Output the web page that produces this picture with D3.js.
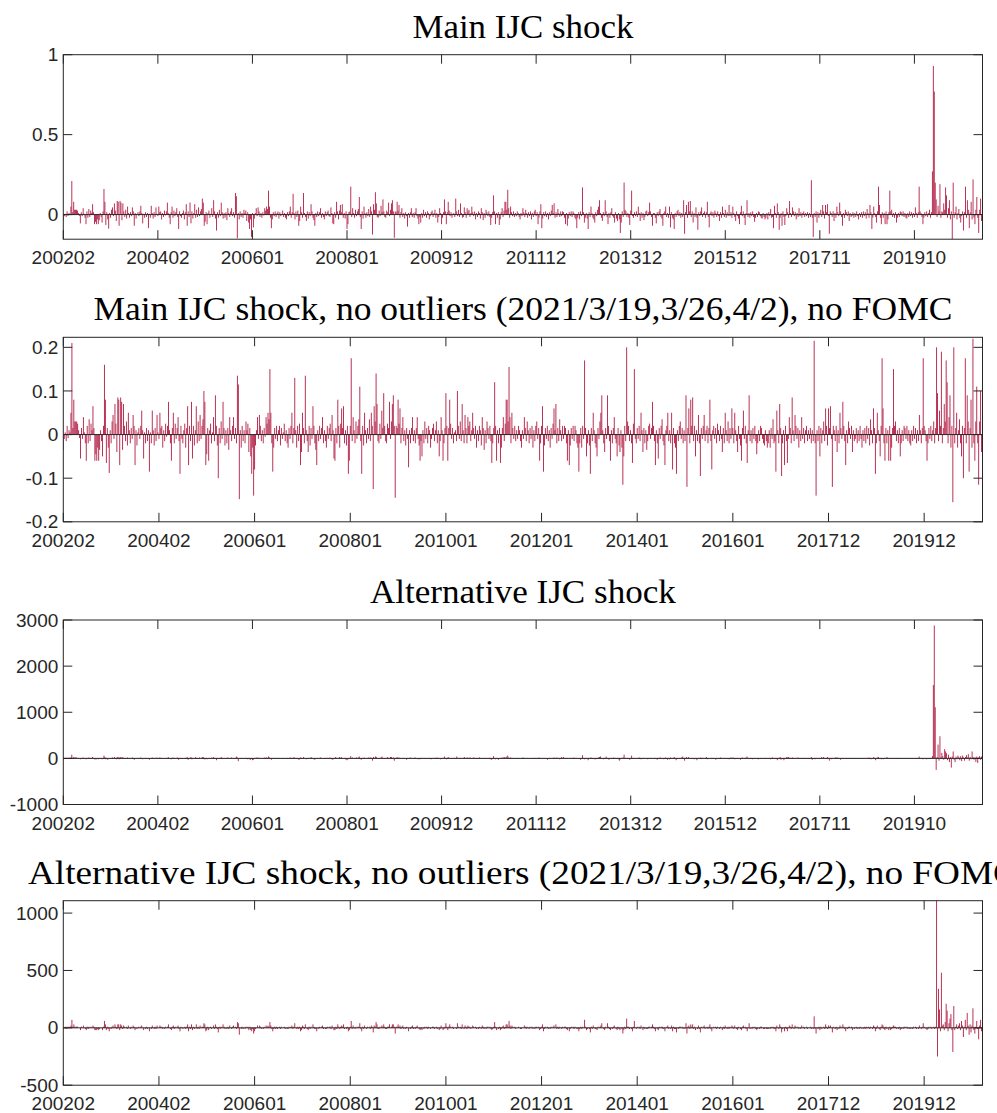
<!DOCTYPE html>
<html>
<head>
<meta charset="utf-8">
<script src="https://d3js.org/d3.v7.min.js"></script>
<style>
  body { margin: 0; background: #fff; }
</style>
</head>
<body>
<div id="chart"></div>
<script>
// x tick labels, one every 100 observations
var ticksAll = ["200202","200402","200601","200801","200912","201112","201312","201512","201711","201910"];
var ticksClean = ["200202","200402","200601","200801","201001","201201","201401","201601","201712","201912"];

// Main IJC shock, all weeks (in thousandths)
var mainAll = [
-35,-10,5,-15,20,-8,10,5,50,210,15,80,30,30,30,25,10,-8,-55,15,
-10,40,5,-20,-60,20,-20,35,-15,25,10,65,15,-60,-45,-60,-30,-60,-35,10,
-15,-50,20,160,80,-65,15,-30,-88,10,-20,30,45,-10,70,25,-40,85,80,-70,
85,75,-35,70,20,-15,30,-25,50,10,-20,15,-10,45,20,-70,10,-25,5,15,
-10,20,55,10,-55,5,-20,15,-15,10,-85,5,-20,55,10,-25,15,-15,45,5,
-10,50,15,20,-30,10,-15,25,-5,20,75,10,-20,-60,15,50,-20,25,-10,15,
40,-15,-90,20,-10,-20,10,25,-30,15,65,-70,20,-15,75,-55,20,-25,10,65,
-20,30,-15,45,-10,20,35,100,75,-70,-45,15,-60,10,25,-20,5,40,-15,90,
20,-25,-100,15,-20,30,-10,75,15,-25,10,-20,15,-35,40,10,-15,20,40,-10,
15,-20,135,115,-148,10,-30,20,-15,10,-20,30,10,25,-40,15,-50,-90,-30,-140,
10,-80,-25,10,40,-10,45,20,-15,10,-20,15,-5,40,25,50,35,150,50,-20,-85,
-30,15,-10,20,-15,10,20,-25,15,-10,5,25,-15,10,-20,-30,15,-10,20,50,
-20,15,130,10,-30,20,-15,25,-70,-40,50,15,-20,135,10,-15,-40,20,-25,15,
-10,65,20,-20,-35,-70,10,-15,20,-10,15,40,-20,10,-15,-30,20,-10,15,25,
-10,-15,45,10,-55,-60,15,-20,80,20,-30,25,60,15,65,-20,10,-25,20,-90,-60,
15,20,175,-15,40,10,-20,30,-10,20,35,110,-15,-90,20,-25,50,10,-20,15,-10,
35,-15,50,20,-125,65,30,140,70,-15,-20,25,-10,55,15,95,20,-15,-20,25,
15,75,-10,30,70,90,20,-145,20,15,80,25,60,-20,15,40,-15,10,-25,15,
-10,-75,10,-20,15,40,-15,10,-20,15,40,-10,-25,-60,-15,-50,10,-20,30,-10,
15,-20,20,10,-30,-10,15,25,-15,10,30,-20,10,-50,-15,40,10,-60,-20,15,
95,20,-60,15,80,25,-10,15,-20,5,10,-15,100,20,-10,30,-15,70,10,-20,
-15,45,15,-20,40,20,30,-15,10,50,15,-10,20,-30,10,-15,20,10,-25,40,15,
-35,10,-20,30,15,-10,20,-15,-65,-20,15,120,20,-60,10,-20,15,-65,-30,15,
40,-15,25,80,80,30,155,40,-20,50,15,-10,20,-15,10,-10,20,10,-15,-30,
10,-10,40,15,-15,30,10,-20,15,-10,20,-30,10,-15,20,30,-10,15,-60,-20,
20,65,-85,-25,15,-10,20,-15,10,-30,15,-10,25,60,10,70,-20,15,-15,35,
10,-15,20,-10,20,15,-20,-60,10,-70,-25,15,-10,20,-15,20,10,-20,-30,-85,
-20,15,-30,20,-10,170,15,-50,-20,10,-25,-90,15,-15,50,10,-20,-30,-50,15,
-10,30,50,90,10,-20,-40,15,-10,90,20,-15,-60,10,-20,15,40,-10,-20,-50,
15,-25,-40,10,-30,-115,-50,20,-15,200,30,20,-15,10,-20,-65,25,150,-10,-20,
15,-10,20,-15,50,10,-40,15,-20,10,-35,-15,20,25,-10,15,75,20,-15,-70,
10,10,-20,-55,15,-10,20,35,-15,-25,-70,10,20,50,-15,10,-20,50,-80,15,-20,
-30,-90,10,-15,20,30,-10,15,-20,10,-15,90,-120,15,60,-20,80,20,85,-15,
20,-50,10,-15,45,-20,-95,15,-10,20,45,-15,10,20,-20,15,80,-15,-80,10,
20,-10,15,-20,25,10,-15,20,-10,-40,15,-20,50,10,-15,30,-20,15,-10,60,
-10,15,-20,50,10,-15,-40,20,-10,-25,-60,15,55,-10,20,-20,-65,10,90,-15,10,
-20,15,-10,20,-15,-45,-20,10,-15,20,15,-10,-20,-25,10,-15,-30,-20,10,-30,
15,-10,35,-20,-15,-85,55,10,-20,70,15,-95,-20,10,-70,20,-15,-65,-10,40,
15,-20,85,10,-15,45,20,-10,15,-30,10,-15,40,-10,15,-20,10,20,-15,10,
-10,15,-20,10,-15,215,-20,-140,10,-15,20,-50,15,-20,10,30,-15,60,20,-25,
60,15,65,-10,-120,20,10,-15,20,-40,10,-20,50,15,-10,75,20,-15,-70,10,
-20,30,15,-10,20,-40,10,-15,-10,15,-20,10,-15,20,-10,-30,10,-15,15,-20,
20,-10,15,-25,35,10,-20,60,15,-90,-20,50,10,-15,-50,20,175,60,-20,-60,
15,-20,10,-60,20,-60,-30,15,150,20,30,-15,10,-20,15,-50,-20,10,-15,20,
15,-10,20,-15,10,-20,-25,10,-15,20,-10,15,-20,10,-15,45,10,-20,15,175,
20,10,-15,-60,-20,15,-10,20,-15,10,30,-20,15,270,930,770,200,95,-15,55,20,190,-20,
20,15,70,30,170,120,-20,40,90,-30,20,-155,200,-20,15,50,-30,10,35,-20,-50,
-10,20,-100,15,175,-20,90,30,-85,15,80,-30,220,-20,-60,30,110,-20,-115,30,100,-40,-20
];

// Main IJC shock, no outliers, no FOMC (in thousandths)
var mainClean = [
-35,-10,5,-15,20,-8,10,5,50,210,15,80,30,30,30,25,10,-8,-55,15,
-10,40,5,-20,-60,20,-20,35,-15,25,10,65,15,-60,-45,-60,-30,-60,-35,10,
-15,-50,20,160,80,-65,15,-30,-88,10,-20,30,45,-10,70,25,-40,85,80,-70,
85,75,-35,70,20,-15,30,-25,50,10,-20,15,-10,45,20,-70,10,-25,5,15,
-10,20,55,10,-55,5,-20,15,-15,10,-85,5,-20,55,10,-25,15,-15,45,5,
-10,50,15,20,-30,10,-15,25,-5,20,75,10,-20,-60,15,50,-20,25,-10,15,
40,-15,-90,20,-10,-20,10,25,-30,15,65,-70,20,-15,75,-55,20,-25,10,65,
-20,30,-15,45,-10,20,35,100,75,-70,-45,15,-60,10,25,-20,5,40,-15,90,
20,-25,-100,15,-20,30,-10,75,15,-25,10,-20,15,-35,40,10,-15,20,40,-10,
15,-20,135,115,-148,10,-30,20,-15,10,-20,30,10,25,-40,15,-50,-90,-30,-140,
-80,-25,10,40,-10,45,20,-15,10,-20,15,-5,40,25,50,35,150,50,-20,-85,
-30,15,-10,20,-15,10,20,-25,15,-10,5,25,-15,10,-20,-30,15,-10,20,50,
-20,15,130,10,-30,20,-15,25,-70,-40,50,15,-20,135,10,-15,-40,20,-25,15,
-10,65,20,-20,-35,-70,10,-15,20,-10,15,40,-20,10,-15,-30,20,-10,15,25,
-15,45,10,-55,-60,15,-20,80,20,-30,25,60,15,65,-20,10,-25,20,-90,-60,
20,175,-15,40,10,-20,30,-10,20,35,110,-15,-90,20,-25,50,10,-20,15,-10,
35,-15,50,20,-125,65,30,140,70,-15,-20,25,-10,55,15,95,20,-15,-20,25,
15,75,-10,30,70,90,20,-145,20,15,80,25,60,-20,15,40,-15,10,-25,15,
-10,-75,10,-20,15,40,-15,10,-20,15,40,-10,-25,-60,-15,-50,10,-20,30,-10,
15,-20,20,10,-30,-10,15,25,-15,10,30,-20,10,-50,-15,40,10,-60,-20,15,
95,20,-60,15,80,25,-10,15,-20,5,10,-15,100,20,-10,30,-15,70,10,-20,
45,15,-20,40,20,30,-15,10,50,15,-10,20,-30,10,-15,20,10,-25,40,15,
-35,10,-20,30,15,-10,20,-15,-65,-20,15,120,20,-60,10,-20,15,-65,-30,15,
40,-15,25,80,80,30,155,40,-20,50,15,-10,20,-15,10,-10,20,10,-15,-30,
10,-10,40,15,-15,30,10,-20,15,-10,20,-30,10,-15,20,30,-10,15,-60,-20,
20,65,-85,-25,15,-10,20,-15,10,-30,15,-10,25,60,10,70,-20,15,-15,35,
10,-15,20,-10,20,15,-20,-60,10,-70,-25,15,-10,20,-15,20,10,-20,-30,-85,
-20,15,-30,20,-10,170,15,-50,-20,10,-25,-90,15,-15,50,10,-20,-30,-50,15,
-10,30,50,90,10,-20,-40,15,-10,90,20,-15,-60,10,-20,15,40,-10,-20,-50,
15,-25,-40,10,-30,-115,-50,20,-15,200,30,20,-15,10,-20,-65,25,150,-10,-20,
15,-10,20,-15,50,10,-40,15,-20,10,-35,-15,20,25,-10,15,75,20,-15,-70,
10,-20,-55,15,-10,20,35,-15,-25,-70,10,20,50,-15,10,-20,50,-80,15,-20,
-30,-90,10,-15,20,30,-10,15,-20,10,-15,90,-120,15,60,-20,80,20,85,-15,
20,-50,10,-15,45,-20,-95,15,-10,20,45,-15,10,20,-20,15,80,-15,-80,10,
20,-10,15,-20,25,10,-15,20,-10,-40,15,-20,50,10,-15,30,-20,15,-10,60,
15,-20,50,10,-15,-40,20,-10,-25,-60,15,55,-10,20,-20,-65,10,90,-15,10,
-20,15,-10,20,-15,-45,-20,10,-15,20,15,-10,-20,-25,10,-15,-30,-20,10,-30,
15,-10,35,-20,-15,-85,55,10,-20,70,15,-95,-20,10,-70,20,-15,-65,-10,40,
15,-20,85,10,-15,45,20,-10,15,-30,10,-15,40,-10,15,-20,10,20,-15,10,
-10,15,-20,10,-15,215,-20,-140,10,-15,20,-50,15,-20,10,30,-15,60,20,-25,
60,15,65,-10,-120,20,10,-15,20,-40,10,-20,50,15,-10,75,20,-15,-70,10,
-20,30,15,-10,20,-40,10,-15,-10,15,-20,10,-15,20,-10,-30,10,-15,15,-20,
20,-10,15,-25,35,10,-20,60,15,-90,-20,50,10,-15,-50,20,175,60,-20,-60,
15,-20,10,-60,20,-60,-30,15,150,20,30,-15,10,-20,15,-50,-20,10,-15,20,
15,-10,20,-15,10,-20,-25,10,-15,20,-10,15,-20,10,-15,45,10,-20,15,175,
20,10,-15,-60,-20,15,-10,20,-15,10,30,-20,15,200,95,-15,55,20,190,-20,
15,70,30,170,120,-20,40,90,-30,20,-155,200,-20,15,50,-30,10,35,-20,-50,
20,-100,15,175,-20,90,30,-85,15,80,-30,220,-20,-60,30,110,-20,-115,30,100,-40,-20
];

// Alternative IJC shock, all weeks (in tens)
var altAll = [
-2,0,1,-1,1,0,1,0,2,8,1,3,2,2,2,1,1,0,-2,1,
0,2,0,-1,-2,1,-1,2,0,1,1,3,1,-2,-2,-2,-1,-2,-1,1,
0,-2,1,6,3,-2,1,-3,-1,0,-1,1,2,0,3,1,-2,3,3,-2,
3,3,-1,3,1,0,1,-1,2,0,-1,1,0,2,1,-3,0,-1,0,1,
0,1,2,0,-2,0,-1,1,-1,0,1,-3,0,-1,2,1,-1,1,-1,2,
0,-1,2,1,1,-1,0,-1,1,0,1,3,0,-1,-2,1,2,-1,1,0,
1,2,-3,-1,1,-1,-1,0,1,-1,1,3,-3,1,-1,3,-2,1,-1,0,
3,-1,1,-1,2,0,1,3,3,-2,-2,1,-2,0,1,-1,0,2,-1,3,
1,-1,-4,1,-1,1,0,3,1,-1,0,-1,1,-1,2,0,-1,1,2,0,
1,-1,1,4,2,-6,0,-1,1,-1,0,-1,1,1,1,-2,1,-2,-3,-1,
-4,-3,-1,0,2,0,2,1,-1,0,-1,1,0,2,1,2,1,4,2,-1,
-3,-1,1,-1,1,0,1,1,-1,1,0,0,1,-1,0,-1,-1,1,0,1,
2,-1,1,1,3,0,-1,1,-1,-3,-2,2,1,-1,3,1,0,-2,1,-1,
1,0,3,1,-1,-2,-3,0,-1,1,0,1,2,-1,0,-1,-1,1,0,1,
1,-1,2,0,-2,-3,1,-1,3,1,-1,1,3,1,3,-1,0,-1,1,-3,
-4,-2,1,1,5,-1,2,0,-1,1,2,1,2,4,-1,-3,1,-1,2,0,
-1,1,-1,2,1,2,1,-5,3,1,4,3,-1,-1,1,0,2,4,1,-1,
-1,1,1,3,-1,1,3,3,1,2,-5,1,1,3,1,2,-1,1,0,-1,
1,-1,0,-3,1,-1,1,2,-1,0,-1,1,2,0,-1,-2,-1,-2,1,-1,
1,0,-1,1,0,-1,1,1,-1,-2,1,0,1,-1,1,2,-1,1,0,-2,
-1,1,1,4,1,-2,1,3,1,0,1,-1,0,1,1,-1,4,1,0,1,
-1,1,0,-1,3,1,-1,2,1,1,2,-1,0,1,2,1,-1,1,-1,1,
2,1,0,-1,-1,1,-1,1,0,-1,1,1,-2,-3,-1,5,1,-2,1,-1,
-3,-1,1,-1,2,1,3,3,1,4,6,2,-1,2,1,-1,1,-1,0,1,
-1,1,0,-1,0,-1,2,1,-1,1,0,1,-1,0,-1,1,0,1,-1,1,
1,0,1,2,-1,0,-1,1,0,1,0,-1,-3,-1,1,-1,0,1,-1,2,
1,-1,2,0,1,-2,1,3,1,3,0,1,-1,1,0,-1,1,0,1,-1,
2,0,-1,1,0,-1,-1,-3,1,7,1,-2,-1,1,-1,-4,1,-1,2,1,
-1,-1,-2,-2,1,-1,2,3,4,1,-1,-2,1,-1,4,1,-1,-3,1,-1,
1,-1,2,-1,1,-1,1,-2,-5,-2,1,-1,2,8,1,1,-1,1,-1,-3,
1,6,-1,-1,1,0,-1,1,-1,2,1,-2,1,-1,1,-1,0,1,-2,1,
0,1,1,0,-1,1,1,-1,-3,1,-1,2,1,-1,-1,-2,1,2,-1,-3,
1,-2,2,1,-1,1,3,-1,-4,1,0,1,-1,1,2,4,1,-5,1,3,
-1,3,-1,1,-1,1,-1,-2,-1,1,-4,-1,1,-1,2,-1,1,1,-1,1,
3,-2,1,0,-1,1,1,-1,1,-1,-3,1,-1,-1,1,2,-1,1,0,1,
0,1,-1,1,-2,1,2,-1,2,1,-2,1,-1,1,-1,-1,-3,1,2,0,
1,-1,2,4,-1,1,-1,1,-1,-2,-1,1,0,-1,1,-2,-1,1,-1,0,
-1,1,-1,1,-1,-1,-1,1,-2,1,2,-1,-1,1,1,-4,1,-1,3,-3,
1,-1,-4,1,-1,3,2,3,1,-1,1,2,-1,1,0,1,-1,2,-1,1,
0,1,-1,1,1,-1,1,-1,1,-1,1,3,-3,-1,1,-2,1,-1,1,1,
-1,1,3,-1,3,1,-1,1,3,1,-5,1,-2,1,1,-1,1,3,-1,2,
1,-1,-3,1,1,-1,1,-1,1,-1,-1,1,-1,1,-1,1,-1,-1,1,-1,
1,-1,1,0,-1,1,-1,0,1,-1,1,-1,2,-1,-2,-1,1,3,-1,-4,
1,2,3,-1,1,-2,-1,-2,1,-1,1,3,1,-1,-1,1,-1,1,-1,1,
-1,1,-1,1,-1,1,-1,1,0,-1,1,0,1,-1,1,0,-1,1,-1,1,
0,1,-1,1,-1,4,1,-1,1,-2,-1,1,-1,-2,1,1,-1,1,-1,5,
159,288,111,-25,3,30,-5,48,2,12,5,-3,20,15,11,-4,8,-8,3,-20,
4,15,-3,-8,4,-2,6,3,-4,5,-6,6,2,-5,3,7,2,9,-5,3,
-2,15,3,-3,2,-8,4,-10,2,5,-3,4,-2
];

// Alternative IJC shock, no outliers, no FOMC (in tens)
var altClean = [
-1,0,1,-1,1,0,1,0,2,7,1,3,1,1,1,1,0,0,-2,1,
0,2,0,-1,-2,1,-1,1,0,1,0,2,1,-2,-2,-2,-1,-2,-1,0,
0,-2,1,6,3,-2,1,-1,-3,0,-1,1,2,0,3,1,-1,3,3,-2,
3,2,-1,2,1,0,1,-1,2,0,-1,1,0,2,1,-2,0,-1,0,1,
0,1,2,0,-2,0,-1,1,-1,0,-3,0,-1,2,0,-1,1,-1,2,0,
0,2,1,1,-1,0,-1,1,0,1,3,0,-1,-2,1,2,-1,1,0,1,
2,-1,-3,1,0,-1,0,1,-1,1,3,-3,1,-1,3,-2,1,-1,0,3,
-1,1,-1,2,0,1,1,4,3,-3,-2,1,-2,0,1,-1,0,2,-1,3,
1,-1,-4,1,-1,1,0,3,1,-1,0,-1,1,-1,2,0,-1,1,2,0,
1,-1,5,4,-6,0,-1,1,-1,0,-1,1,0,1,-2,1,-2,-3,-1,-5,
-3,-1,0,2,0,2,1,-1,0,-1,1,0,2,1,2,1,5,2,-1,-3,
-1,1,-1,1,-1,0,1,-1,1,0,0,1,-1,0,-1,-1,1,0,1,2,
-1,1,4,0,-1,1,-1,1,-3,-2,2,1,-1,3,0,-1,-2,1,-1,1,
0,3,1,-1,-1,-3,0,-1,1,0,1,2,-1,0,-1,-1,1,0,1,1,
-1,2,0,-2,-2,1,-1,3,1,-1,1,2,1,3,-1,0,-1,1,-3,-2,
1,6,-1,2,0,-1,1,0,1,1,4,-1,-3,1,-1,2,0,-1,1,0,
1,-1,2,1,-4,2,1,5,3,-1,-1,1,0,2,1,3,1,-1,-1,1,
1,3,0,1,3,3,1,-5,1,1,3,1,2,-1,1,2,-1,0,-1,1,
0,-3,0,-1,1,2,-1,0,-1,1,2,0,-1,-2,-1,-2,0,-1,1,0,
1,-1,1,0,-1,0,1,1,-1,0,1,-1,0,-2,-1,2,0,-2,-1,1,
4,1,-2,1,3,1,0,1,-1,0,0,-1,4,1,0,1,-1,3,0,-1,
2,1,-1,2,1,1,-1,0,2,1,0,1,-1,0,-1,1,0,-1,2,1,
-1,0,-1,1,1,0,1,-1,-2,-1,1,5,1,-2,0,-1,1,-2,-1,1,
2,-1,1,3,3,1,6,2,-1,2,1,0,1,-1,0,0,1,0,-1,-1,
0,0,2,1,-1,1,0,-1,1,0,1,-1,0,-1,1,1,0,1,-2,-1,
1,3,-3,-1,1,0,1,-1,0,-1,1,0,1,2,0,3,-1,1,-1,1,
0,-1,1,0,1,1,-1,-2,0,-3,-1,1,0,1,-1,1,0,-1,-1,-3,
-1,1,-1,1,0,7,1,-2,-1,0,-1,-4,1,-1,2,0,-1,-1,-2,1,
0,1,2,4,0,-1,-2,1,0,4,1,-1,-2,0,-1,1,2,0,-1,-2,
1,-1,-2,0,-1,-5,-2,1,-1,8,1,1,-1,0,-1,-3,1,6,0,-1,
1,0,1,-1,2,0,-2,1,-1,0,-1,-1,1,1,0,1,3,1,-1,-3,
0,-1,-2,1,0,1,1,-1,-1,-3,0,1,2,-1,0,-1,2,-3,1,-1,
-1,-4,0,-1,1,1,0,1,-1,0,-1,4,-5,1,2,-1,3,1,3,-1,
1,-2,0,-1,2,-1,-4,1,0,1,2,-1,0,1,-1,1,3,-1,-3,0,
1,0,1,-1,1,0,-1,1,0,-2,1,-1,2,0,-1,1,-1,1,0,2,
1,-1,2,0,-1,-2,1,0,-1,-2,1,2,0,1,-1,-3,0,4,-1,0,
-1,1,0,1,-1,-2,-1,0,-1,1,1,0,-1,-1,0,-1,-1,-1,0,-1,
1,0,1,-1,-1,-3,2,0,-1,3,1,-4,-1,0,-3,1,-1,-3,0,2,
1,-1,3,0,-1,2,1,0,1,-1,0,-1,2,0,1,-1,0,1,-1,0,
0,1,-1,0,-1,10,-1,-5,0,-1,1,-2,1,-1,0,1,-1,3,1,-1,
2,1,2,0,-4,1,0,-1,1,-2,0,-1,2,1,0,3,1,-1,-3,0,
-1,1,1,0,1,-2,0,-1,0,1,-1,0,-1,1,0,-1,0,-1,1,-1,
1,0,1,-1,1,0,-1,2,1,-3,-1,2,0,-1,-2,1,3,2,-1,-2,
1,-1,0,-2,1,-2,-1,1,2,1,1,-1,0,-1,1,-2,-1,0,-1,1,
1,0,1,-1,0,-1,-1,0,-1,1,0,1,-1,0,-1,2,0,-1,1,4,
1,0,-1,-2,-1,1,0,1,-1,0,1,-1,1,150,-25,34,16,-3,48,2,
3,-2,5,21,15,-3,4,8,12,-2,-21,19,-2,1,3,-1,2,4,-2,6,
2,-8,1,7,-2,13,2,-6,3,-4,2,17,-2,-5,1,6,-1,-10,2,7,-3,2
];

var W = 997, H = 1113;
var left = 63.3, right = 982.5, plotH = 184.5;
var barColor = "#b21f45";
var axisColor = "#262626";
var tickLen = 9;

var panels = [
  { title: "Main IJC shock", titleLen: 221,
    values: mainAll.map(function (v) { return v / 1000; }),
    xLabels: ticksAll, yDomain: [-0.154, 1], yTicks: [0, 0.5, 1], top: 54.7 },
  { title: "Main IJC shock, no outliers (2021/3/19,3/26,4/2), no FOMC", titleLen: 859,
    values: mainClean.map(function (v) { return v / 1000; }),
    xLabels: ticksClean, yDomain: [-0.2, 0.223], yTicks: [-0.2, -0.1, 0, 0.1, 0.2], top: 337.3 },
  { title: "Alternative IJC shock", titleLen: 306,
    values: altAll.map(function (v) { return v * 10; }),
    xLabels: ticksAll, yDomain: [-1000, 3000], yTicks: [-1000, 0, 1000, 2000, 3000], top: 620 },
  { title: "Alternative IJC shock, no outliers (2021/3/19,3/26,4/2), no FOMC", titleLen: 990,
    values: altClean.map(function (v) { return v * 10; }),
    xLabels: ticksClean, yDomain: [-500, 1108], yTicks: [-500, 0, 500, 1000], top: 900.7 }
];

var svg = d3.select("#chart").append("svg")
  .attr("width", W)
  .attr("height", H)
  .style("background", "white");

panels.forEach(function (p, k) {
  var n = p.values.length;
  var x = d3.scaleLinear().domain([0, n - 1]).range([left, right]);
  var y = d3.scaleLinear().domain(p.yDomain).range([p.top + plotH, p.top]);
  var bw = 0.95 * (right - left) / (n - 1);

  var g = svg.append("g");

  // clip everything to the plot box
  g.append("clipPath").attr("id", "clip" + k)
    .append("rect")
    .attr("x", left).attr("y", p.top)
    .attr("width", right - left).attr("height", plotH);

  var bars = g.append("g").attr("clip-path", "url(#clip" + k + ")");
  bars.selectAll("rect")
    .data(p.values)
    .enter()
    .append("rect")
      .attr("x", function (d, i) { return x(i) - bw / 2; })
      .attr("y", function (d) { return Math.min(y(d), y(0)); })
      .attr("width", bw)
      .attr("height", function (d) { return Math.abs(y(d) - y(0)); })
      .attr("fill", barColor);

  // bar baseline
  bars.append("line")
    .attr("x1", left).attr("x2", right)
    .attr("y1", y(0)).attr("y2", y(0))
    .attr("stroke", axisColor)
    .attr("stroke-width", 1);

  // axes box
  g.append("rect")
    .attr("x", left).attr("y", p.top)
    .attr("width", right - left).attr("height", plotH)
    .attr("fill", "none")
    .attr("stroke", axisColor)
    .attr("stroke-width", 1);

  // x ticks, bottom and top, pointing in
  var xt = d3.range(0, n, 100);
  g.selectAll(".xtb").data(xt).enter().append("line")
    .attr("x1", function (d) { return x(d); }).attr("x2", function (d) { return x(d); })
    .attr("y1", p.top + plotH).attr("y2", p.top + plotH - tickLen)
    .attr("stroke", axisColor);
  g.selectAll(".xtt").data(xt).enter().append("line")
    .attr("x1", function (d) { return x(d); }).attr("x2", function (d) { return x(d); })
    .attr("y1", p.top).attr("y2", p.top + tickLen)
    .attr("stroke", axisColor);
  g.selectAll(".xl").data(xt).enter().append("text")
    .attr("x", function (d) { return x(d); })
    .attr("y", p.top + plotH + 25)
    .attr("text-anchor", "middle")
    .attr("font-family", "Liberation Sans, Arial, sans-serif")
    .attr("font-size", 19)
    .attr("fill", axisColor)
    .text(function (d, i) { return p.xLabels[i]; });

  // y ticks, left and right, pointing in
  g.selectAll(".ytl").data(p.yTicks).enter().append("line")
    .attr("x1", left).attr("x2", left + tickLen)
    .attr("y1", function (d) { return y(d); }).attr("y2", function (d) { return y(d); })
    .attr("stroke", axisColor);
  g.selectAll(".ytr").data(p.yTicks).enter().append("line")
    .attr("x1", right).attr("x2", right - tickLen)
    .attr("y1", function (d) { return y(d); }).attr("y2", function (d) { return y(d); })
    .attr("stroke", axisColor);
  g.selectAll(".yl").data(p.yTicks).enter().append("text")
    .attr("x", left - 5)
    .attr("y", function (d) { return y(d); })
    .attr("dy", "0.35em")
    .attr("text-anchor", "end")
    .attr("font-family", "Liberation Sans, Arial, sans-serif")
    .attr("font-size", 19)
    .attr("fill", axisColor)
    .text(function (d) { return String(d); });

  // title
  g.append("text")
    .attr("x", (left + right) / 2)
    .attr("y", p.top - 17)
    .attr("text-anchor", "middle")
    .attr("font-family", "Liberation Serif, Times New Roman, serif")
    .attr("font-size", 34)
    .attr("textLength", p.titleLen)
    .attr("lengthAdjust", "spacingAndGlyphs")
    .attr("fill", "#000")
    .text(p.title);
});
</script>
</body>
</html>
